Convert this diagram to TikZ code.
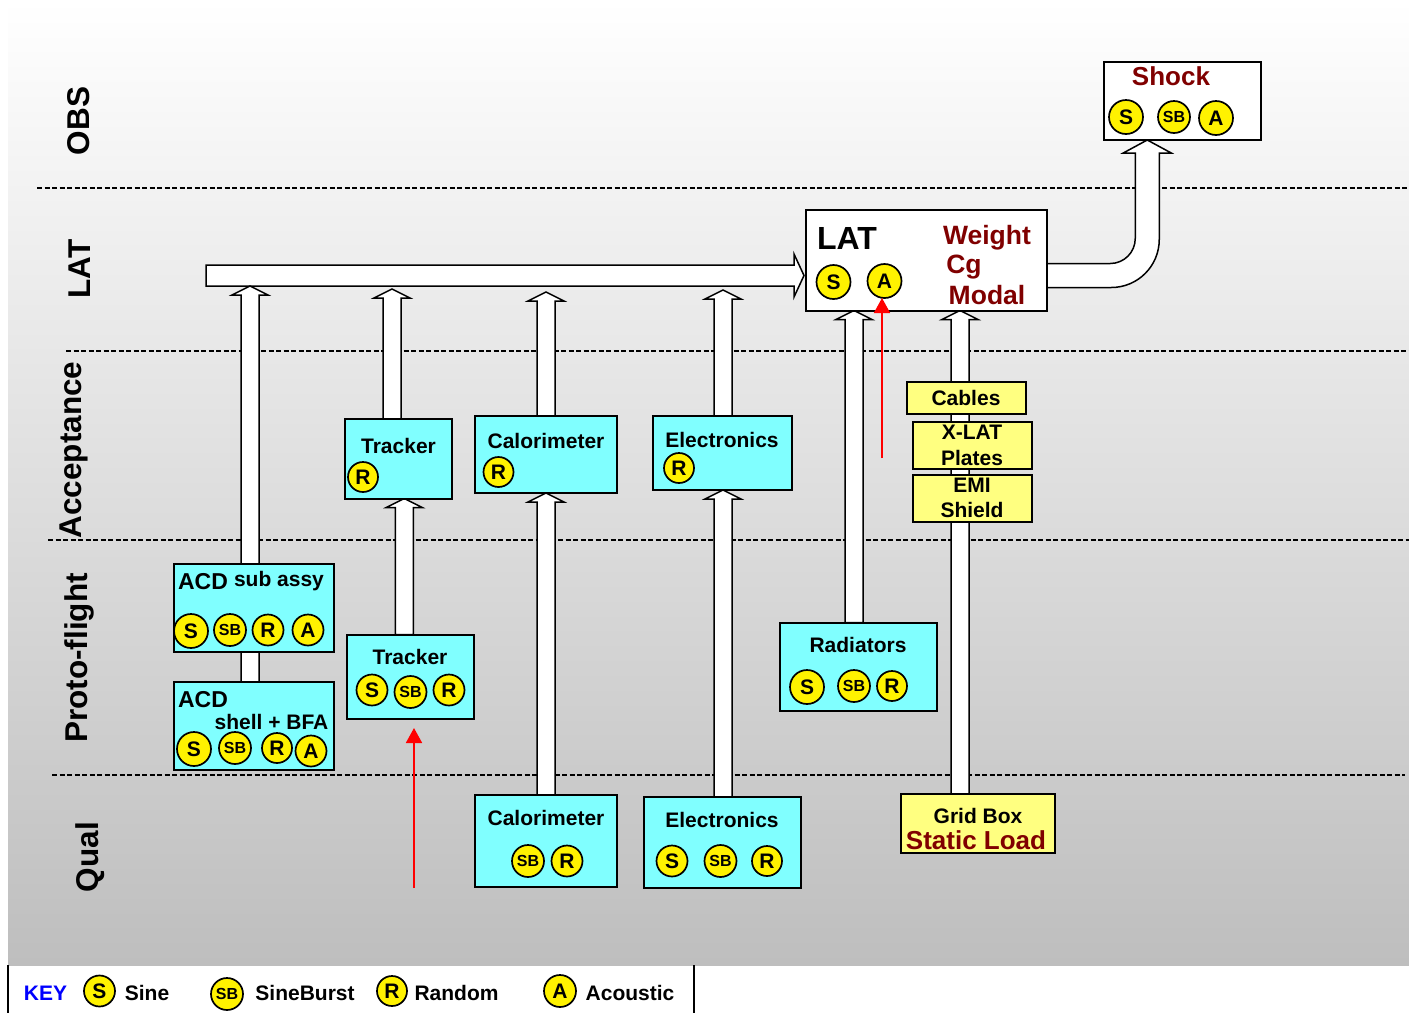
\documentclass[tikz,border=0pt]{standalone}
\usepackage{fontspec}
\setmainfont{Liberation Sans}
\usetikzlibrary{calc,arrows.meta}
\pgfdeclarelayer{arrowlayer}
\pgfdeclarelayer{bglayer}
\pgfsetlayers{bglayer,arrowlayer,main}
\definecolor{cyanbox}{HTML}{80FFFF}
\definecolor{yelbox}{HTML}{FFFF80}
\definecolor{darkred}{HTML}{800000}
\definecolor{bgbot}{HTML}{BEBEBE}
\tikzset{
  lab/.style={inner sep=0pt,font=\fontsize{#1}{#1}\selectfont\bfseries},
  sw/.style={circle,draw=black,fill=yellow,line width=1.7pt,inner sep=0pt,minimum size=#1,font=\fontsize{21}{21}\selectfont\bfseries},
  swb/.style={sw=#1,font=\fontsize{16}{16}\selectfont\bfseries},
  boxs/.style={draw=black,line width=2pt,inner sep=0pt,outer sep=0pt,anchor=north west},
  blockarrow/.style={draw=black,fill=white,line width=1.5pt,line join=miter},
  sep/.style={draw=black,line width=1.2pt,dash pattern=on 5pt off 2.5pt},
  redarrow/.style={draw=red,line width=1.8pt,-{Triangle[width=16pt,length=15pt]}}
}
% box: name, top-left x, top-left y, right x, bottom y, fill
\newcommand\bx[6]{\node[boxs,fill=#6,minimum width=#4pt-#2pt,minimum height=#5pt-#3pt] (#1) at (#2,#3) {};}
\newcommand\blockup[2]{\draw[blockarrow] let \p1=(#1),\p2=(#2) in
  (\x1-9pt,\y1) -- (\x1-9pt,\y2-9pt) -- (\x1-18pt,\y2-9pt) -- (\x1,\y2) -- (\x1+18pt,\y2-9pt) -- (\x1+9pt,\y2-9pt) -- (\x1+9pt,\y1) -- cycle;}
\begin{document}
\begin{tikzpicture}[x=1pt,y=-1pt]
\useasboundingbox (0,0) rectangle (1409,1013);
\begin{pgfonlayer}{bglayer}
\shade[top color=white,bottom color=bgbot] (8,0) rectangle (1409,965);
\draw[sep] (37,188) -- (1409,188);
\draw[sep] (66,351) -- (1409,351);
\draw[sep] (48,540) -- (1409,540);
\draw[sep] (52,775) -- (1405,775);
\draw[line width=1.6pt] (8,965) -- (8,1013);
\draw[line width=1.6pt] (694,965) -- (694,1013);
\end{pgfonlayer}

% row labels
\node[lab=31.5,rotate=90] (lobs) at (79,121) {OBS};
\node[lab=31.5,rotate=90] (llat) at (80,269) {LAT};
\node[lab=31.5,rotate=90] (lacc) at (74,450) {Acceptance};
\node[lab=31.5,rotate=90] (lpro) at (79,658) {Proto-flight};
\node[lab=31.5,rotate=90] (lqua) at (90,857) {Qual};

% boxes
\bx{shock}{1103.5}{62}{1261}{140}{white}
\bx{lat}{806}{209.5}{1047}{310.5}{white}
\bx{acdsub}{173.5}{563.5}{333.5}{652}{cyanbox}
\bx{acdshell}{173.5}{682}{333.5}{770}{cyanbox}
\bx{trkpf}{346.5}{634.5}{474}{718.5}{cyanbox}
\bx{trkacc}{345}{419}{452}{498.5}{cyanbox}
\bx{calacc}{475}{416}{617}{493}{cyanbox}
\bx{elecacc}{653}{416}{792}{490}{cyanbox}
\bx{rad}{780}{622.5}{937}{711}{cyanbox}
\bx{calq}{475}{795}{617}{887}{cyanbox}
\bx{elecq}{644}{797}{801}{888}{cyanbox}
\bx{grid}{901}{794}{1055}{853}{yelbox}
\bx{cables}{907}{382}{1025.5}{414}{yelbox}
\bx{xlat}{913}{422}{1032}{469}{yelbox}
\bx{emi}{913}{475}{1032}{522}{yelbox}

% box labels
\node[lab=26,text=darkred] (tshock) at (1171,76.5) {Shock};
\node[lab=32] (tlat) at (847,238) {LAT};
\node[lab=26.5,text=darkred] (tweight) at (987,238) {Weight};
\node[lab=26.5,text=darkred] (tcg) at (964,267) {Cg};
\node[lab=26.5,text=darkred] (tmodal) at (987,295) {Modal};
\node[lab=23] (tacd1) at (203,582) {ACD};
\node[lab=21] (tsub) at (279,581) {sub assy};
\node[lab=23] (tacd2) at (203,700) {ACD};
\node[lab=21] (tshell) at (271.5,722) {shell + BFA};
\node[lab=21] (ttrkacc) at (398.5,446) {Tracker};
\node[lab=21] (tcalacc) at (546,441) {Calorimeter};
\node[lab=21] (telecacc) at (722,440) {Electronics};
\node[lab=21] (ttrkpf) at (410,657) {Tracker};
\node[lab=21] (trad) at (858,645) {Radiators};
\node[lab=21] (tcalq) at (546,818) {Calorimeter};
\node[lab=21] (telecq) at (722,820) {Electronics};
\node[lab=21] (tgrid) at (978,816) {Grid Box};
\node[lab=26,text=darkred] (tstatic) at (976,840) {Static Load};
\node[lab=21] (tcables) at (966,398) {Cables};
\node[lab=21] (txlat) at (972,432) {X-LAT};
\node[lab=21] (tplates) at (972,458) {Plates};
\node[lab=21] (temi) at (972,485) {EMI};
\node[lab=21] (tshield) at (972,510) {Shield};

% test-type badges
\node[sw=34pt] (s1) at (1126,117) {S};
\node[swb=32pt] (s2) at (1174,117) {SB};
\node[sw=34pt] (s3) at (1216,118) {A};
\node[sw=34pt] (l1) at (833.5,282) {S};
\node[sw=34pt] (l2) at (884.5,281) {A};
\node[sw=34pt] (a1) at (191,631) {S};
\node[swb=32pt] (a2) at (230,630) {SB};
\node[sw=31pt] (a3) at (268,630) {R};
\node[sw=31pt] (a4) at (308,630) {A};
\node[sw=34pt] (b1) at (194,749) {S};
\node[swb=32pt] (b2) at (235,748) {SB};
\node[sw=30pt] (b3) at (277,748) {R};
\node[sw=31pt] (b4) at (311,751) {A};
\node[sw=31pt] (c1) at (372,690) {S};
\node[swb=32pt] (c2) at (410.5,692) {SB};
\node[sw=31pt] (c3) at (449,690) {R};
\node[sw=30pt] (d1) at (363,477) {R};
\node[sw=30pt] (d2) at (498.5,472) {R};
\node[sw=30pt] (d3) at (679,468) {R};
\node[sw=34pt] (e1) at (807,687) {S};
\node[swb=32pt] (e2) at (854,686) {SB};
\node[sw=30pt] (e3) at (892,686) {R};
\node[swb=32pt] (f1) at (528,861) {SB};
\node[sw=31pt] (f2) at (567,861) {R};
\node[sw=31pt] (g1) at (672,861) {S};
\node[swb=32pt] (g2) at (720.5,861) {SB};
\node[sw=30pt] (g3) at (767,861) {R};

% key
\node[lab=21,text=blue] (tkey) at (45.5,993) {KEY};
\node[sw=31pt] (k1) at (99.5,991) {S};
\node[lab=21] (tk1) at (147,993) {Sine};
\node[swb=32pt] (k2) at (227,994) {SB};
\node[lab=21] (tk2) at (305,993) {SineBurst};
\node[sw=30pt] (k3) at (392,991) {R};
\node[lab=21] (tk3) at (456.5,993) {Random};
\node[sw=32pt] (k4) at (560,991) {A};
\node[lab=21] (tk4) at (630,993) {Acoustic};

% red arrows
\coordinate (r1a) at (882,458);
\coordinate (r1b) at (882,298);
\coordinate (r2a) at (414,888);
\coordinate (r2b) at (414,728);
\draw[redarrow] (r1a) -- (r1b);
\draw[redarrow] (r2a) -- (r2b);

% block arrows
\begin{pgfonlayer}{arrowlayer}
\coordinate (bartail) at (206,275.5);
\draw[blockarrow] let \p1=(bartail),\p2=([xshift=-2pt]lat.west) in
  (\x1,\y1+10.5pt) -- (\x2-10pt,\y1+10.5pt) -- (\x2-10pt,\y1+21.5pt) -- (\x2,\y1) -- (\x2-10pt,\y1-21.5pt) -- (\x2-10pt,\y1-10.5pt) -- (\x1,\y1-10.5pt) -- cycle;
\coordinate (barlow) at (250,286);
\blockup{[xshift=-3.5pt]acdshell.north}{barlow}
\blockup{[xshift=-6.5pt]trkacc.north}{[yshift=-3pt]barlow}
\blockup{calacc.north}{[yshift=-6pt]barlow}
\blockup{[xshift=.5pt]elecacc.north}{[yshift=-4pt]barlow}
\blockup{[xshift=-6pt]trkpf.north}{trkacc.south}
\blockup{calq.north}{calacc.south}
\blockup{[xshift=.5pt]elecq.north}{elecacc.south}
\blockup{[xshift=-4.5pt]rad.north}{lat.south}
\blockup{[xshift=-18pt]grid.north}{lat.south}
\draw[blockarrow] let \p1=([yshift=-15.5pt]lat.east),\p2=([xshift=-35pt]shock.south) in
  (\x1,\y1+12pt) -- (\x2-37pt,\y1+12pt) arc[start angle=270,end angle=360,radius=25pt]
  -- (\x2-12pt,\y2-13pt) -- (\x2-24pt,\y2-13pt) -- (\x2,\y2) -- (\x2+24pt,\y2-13pt) -- (\x2+12pt,\y2-13pt)
  -- (\x2+12pt,\y1+36pt) arc[start angle=0,end angle=-90,radius=48pt] -- (\x1,\y1-12pt) -- cycle;
\end{pgfonlayer}
\end{tikzpicture}
\end{document}
